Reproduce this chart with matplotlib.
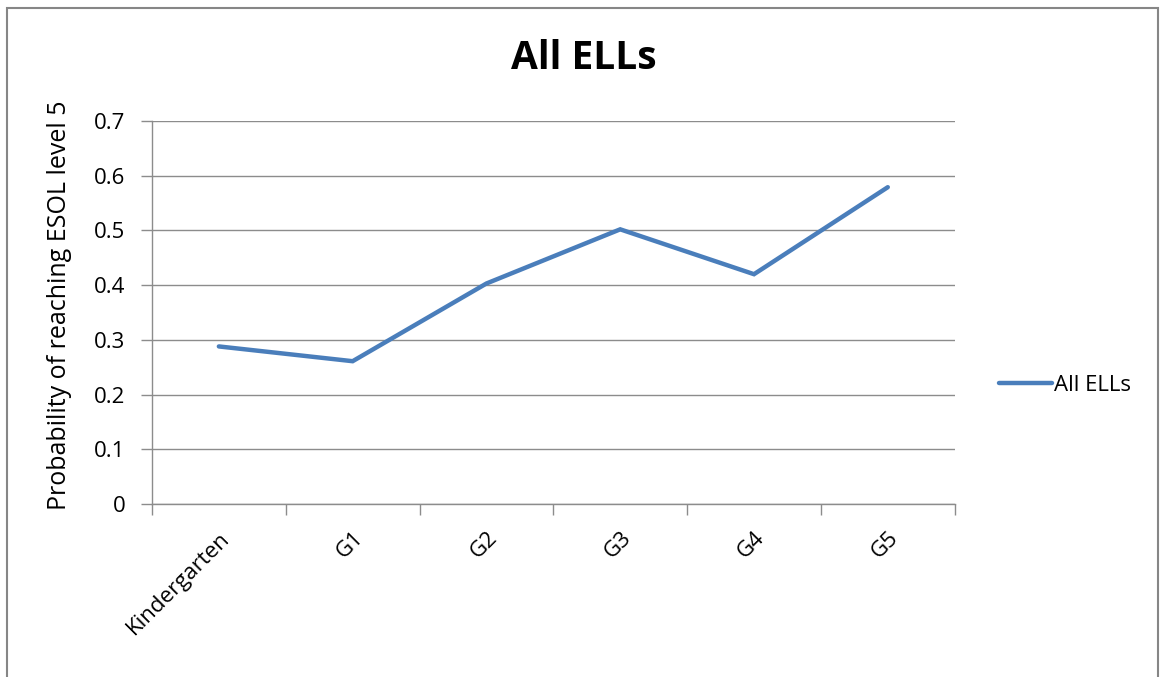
import matplotlib
matplotlib.use('Agg')
import matplotlib.pyplot as plt
from matplotlib.patches import Rectangle

# === Data ===
grades = ['Kindergarten', 'G1', 'G2', 'G3', 'G4', 'G5']
probability = [0.288, 0.261, 0.403, 0.502, 0.420, 0.579]

LINE_BLUE = '#4A7EBB'
GRID_GREY = '#8C8C8C'

plt.rcParams.update({
    'font.family': ['Open Sans', 'DejaVu Sans'],
    'font.size': 16,
})

fig = plt.figure(figsize=(11.6, 6.77), dpi=100, facecolor='white')
ax = fig.add_axes([0.131, 0.2555, 0.692, 0.5658])

x = list(range(len(grades)))
ax.plot(x, probability, color=LINE_BLUE, linewidth=3.2, label='All ELLs',
        solid_capstyle='round', solid_joinstyle='miter', zorder=3)

ax.set_xlim(-0.5, len(grades) - 0.5)
ax.set_ylim(0, 0.7)
ax.set_yticks([0, 0.1, 0.2, 0.3, 0.4, 0.5, 0.6, 0.7])
ax.set_yticklabels(['0', '0.1', '0.2', '0.3', '0.4', '0.5', '0.6', '0.7'])
ax.set_xticks(x)
ax.set_xticklabels(grades, rotation=45, ha='right', rotation_mode='anchor')
ax.set_xticks([i - 0.5 for i in range(len(grades) + 1)], minor=True)

ax.tick_params(axis='x', which='major', length=0, pad=17, labelsize=16)
ax.tick_params(axis='x', which='minor', length=8, width=1, color=GRID_GREY, direction='out')
ax.tick_params(axis='y', length=8, width=1, color=GRID_GREY, direction='out', pad=11,
               labelsize=16)

ax.grid(axis='y', color=GRID_GREY, linewidth=1)
for s in ['top', 'right']:
    ax.spines[s].set_visible(False)
for s in ['left', 'bottom']:
    ax.spines[s].set_color(GRID_GREY)
    ax.spines[s].set_linewidth(1)

ax.set_ylabel('Probability of reaching ESOL level 5', fontsize=18)
ax.yaxis.set_label_coords(-0.099, 0.52)
fig.text(0.503, 0.913, 'All ELLs', ha='center', va='center',
         fontsize=28, fontweight='bold')

leg = ax.legend(loc='center left', bbox_to_anchor=(1.03, 0.31), frameon=False,
                handlelength=2.4, handletextpad=0.1, fontsize=16)

# outer chart border
fig.patches.append(Rectangle((0.006, -0.01), 0.992, 0.998, transform=fig.transFigure,
                             fill=False, edgecolor='#868686', linewidth=1.5))

fig.savefig('out.png', dpi=100, facecolor='white')
